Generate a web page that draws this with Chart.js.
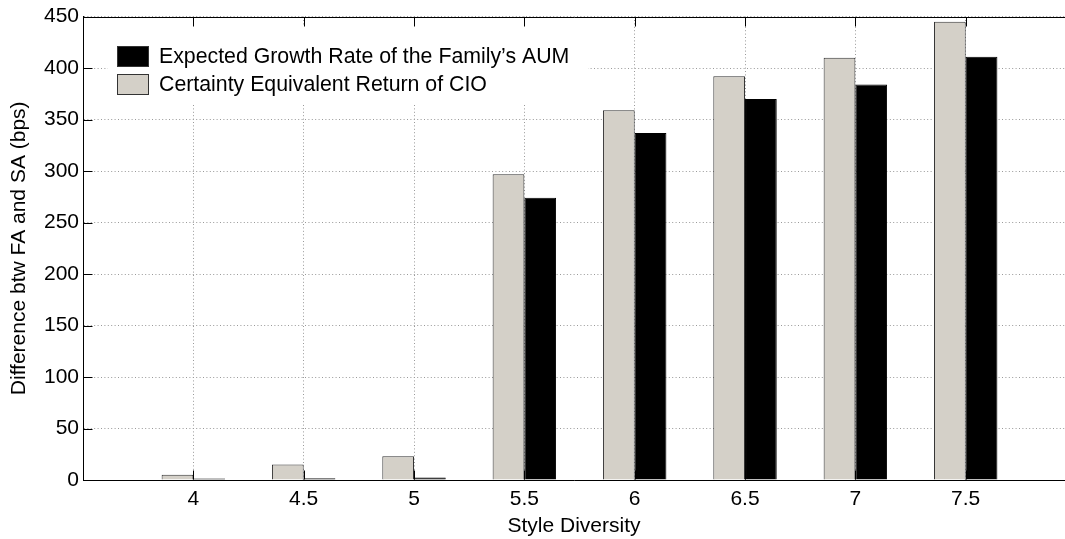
<!DOCTYPE html>
<html>
<head>
<meta charset="utf-8">
<script src="https://cdn.jsdelivr.net/npm/chart.js@4.4.0/dist/chart.umd.min.js"></script>
<style>
  html, body { margin: 0; padding: 0; background: #fff; overflow: hidden; }
  #wrap { width: 1065px; height: 539px; }
</style>
</head>
<body>
<div id="wrap"><canvas id="myChart"></canvas></div>
<script>
const styleDiversity = [4, 4.5, 5, 5.5, 6, 6.5, 7, 7.5];
const cioReturn = [5, 15, 23, 297, 359, 392, 410, 445];
const aumGrowth = [1.5, 1.7, 2.4, 274, 337, 370, 384, 411];
const yTicks = [0, 50, 100, 150, 200, 250, 300, 350, 400, 450];
const xTicks = [3.5, 4, 4.5, 5, 5.5, 6, 6.5, 7, 7.5];

const FONT = 'Liberation Sans, Arial, Helvetica, sans-serif';

const points = vals => styleDiversity.map((v, i) => ({x: v, y: vals[i]}));

// legend drawn inside the axes, black entry first
const boxLegend = {
  id: 'boxLegend',
  afterDraw(chart) {
    const ctx = chart.ctx;
    ctx.save();
    ctx.fillStyle = '#fff';
    ctx.fillRect(108, 26, 480, 77);
    ctx.font = '21.3px ' + FONT;
    ctx.textBaseline = 'middle';
    chart.data.datasets.slice().reverse().forEach((ds, i) => {
      const top = 46 + i * 28;
      ctx.fillStyle = ds.backgroundColor;
      ctx.fillRect(117, top, 32, 21);
      ctx.strokeStyle = '#333';
      ctx.lineWidth = 1;
      ctx.strokeRect(117.5, top + 0.5, 31, 20);
      ctx.fillStyle = '#000';
      ctx.fillText(ds.label, 159, top + 11);
    });
    ctx.restore();
  }
};

// top edge of the box and inward tick marks (right edge runs off the canvas)
const boxTicks = {
  id: 'boxTicks',
  afterDraw(chart) {
    const {ctx, chartArea: a, scales: {x, y}} = chart;
    const len = 9;
    const top = Math.round(a.top) + 0.5;
    const bottom = Math.round(a.bottom) - 0.5;
    const left = Math.round(a.left) + 0.5;
    ctx.save();
    ctx.strokeStyle = '#000';
    ctx.lineWidth = 1;
    ctx.beginPath();
    ctx.moveTo(left, top); ctx.lineTo(chart.width, top);
    xTicks.forEach(v => {
      const px = Math.round(x.getPixelForValue(v)) + 0.5;
      ctx.moveTo(px, bottom); ctx.lineTo(px, bottom - len);
      ctx.moveTo(px, top); ctx.lineTo(px, top + len);
    });
    yTicks.forEach(v => {
      const py = Math.round(y.getPixelForValue(v)) + 0.5;
      ctx.moveTo(left, py); ctx.lineTo(left + len, py);
    });
    ctx.stroke();
    ctx.restore();
  }
};

new Chart('myChart', {
  type: 'bar',
  data: {
    datasets: [{
      label: 'Certainty Equivalent Return of CIO',
      data: points(cioReturn),
      backgroundColor: '#d4d0c8',
      borderColor: '#333',
      borderWidth: 1,
      categoryPercentage: 0.575,
      barPercentage: 1
    }, {
      label: 'Expected Growth Rate of the Family\u2019s AUM',
      data: points(aumGrowth),
      backgroundColor: '#000',
      borderColor: '#000',
      borderWidth: 1,
      categoryPercentage: 0.575,
      barPercentage: 1
    }]
  },
  options: {
    responsive: true,
    maintainAspectRatio: false,
    animation: false,
    layout: {padding: {top: 15, right: 0, left: 0, bottom: 0}},
    plugins: {
      legend: {display: false},
      tooltip: {enabled: false}
    },
    scales: {
      x: {
        type: 'linear',
        min: 3.5,
        max: 7.95,
        offset: false,
        afterBuildTicks: s => { s.ticks = xTicks.map(v => ({value: v})); },
        afterFit: s => { s.height = 59; },
        grid: {offset: false, color: '#999', lineWidth: 1, drawTicks: false},
        border: {display: true, color: '#000', width: 1, dash: [1, 2.4]},
        ticks: {
          padding: 7,
          color: '#000',
          font: {family: FONT, size: 21},
          callback: v => v === 3.5 ? '' : String(v)
        },
        title: {
          display: true,
          text: 'Style Diversity',
          color: '#000',
          font: {family: FONT, size: 21},
          padding: {top: 0, bottom: 0}
        }
      },
      y: {
        min: 0,
        max: 450,
        afterBuildTicks: s => { s.ticks = yTicks.map(v => ({value: v})); },
        afterFit: s => { s.width = 83; },
        grid: {color: '#999', lineWidth: 1, drawTicks: false},
        border: {display: true, color: '#000', width: 1, dash: [1, 2.4]},
        ticks: {
          padding: 4,
          color: '#000',
          font: {family: FONT, size: 21}
        },
        title: {
          display: true,
          text: 'Difference btw FA and SA (bps)',
          color: '#000',
          font: {family: FONT, size: 21},
          padding: {top: 7, bottom: 0}
        }
      }
    }
  },
  plugins: [boxLegend, boxTicks]
});
</script>
</body>
</html>
